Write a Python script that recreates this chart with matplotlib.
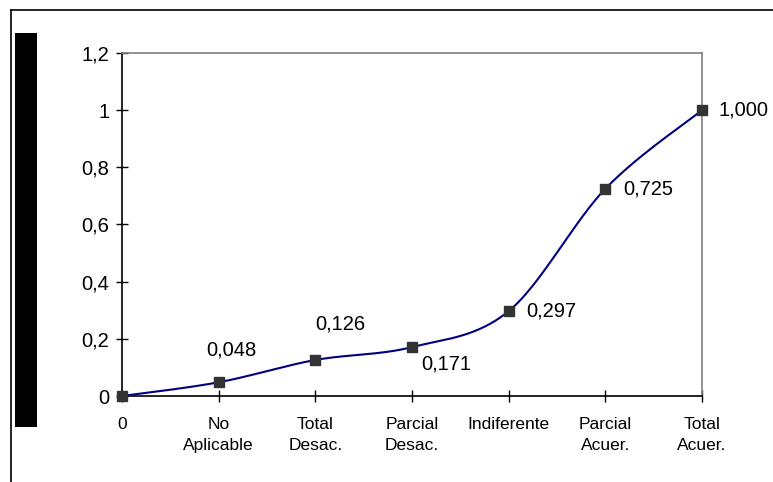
import numpy as np
import matplotlib.pyplot as plt
from matplotlib.patches import Rectangle
from matplotlib.lines import Line2D

plt.rcParams['font.family'] = ['Liberation Sans', 'DejaVu Sans']

# data
categories = ['0', 'No\nAplicable', 'Total\nDesac.', 'Parcial\nDesac.',
              'Indiferente', 'Parcial\nAcuer.', 'Total\nAcuer.']
values = [0.0, 0.048, 0.126, 0.171, 0.297, 0.725, 1.000]
point_labels = ['', '0,048', '0,126', '0,171', '0,297', '0,725', '1,000']
yticks = [0, 0.2, 0.4, 0.6, 0.8, 1.0, 1.2]
ytick_labels = ['0', '0,2', '0,4', '0,6', '0,8', '1', '1,2']


def smooth_curve(x, y, n=30):
    # Excel-like smoothed line (Catmull-Rom as cubic Bezier)
    x = np.asarray(x, float)
    y = np.asarray(y, float)
    px = np.concatenate([[x[0]], x, [x[-1]]])
    py = np.concatenate([[y[0]], y, [y[-1]]])
    xs, ys = [], []
    t = np.linspace(0, 1, n)
    for i in range(len(x) - 1):
        p0 = np.array([px[i + 1], py[i + 1]])
        p3 = np.array([px[i + 2], py[i + 2]])
        c1 = p0 + (p3 - np.array([px[i], py[i]])) / 6
        c2 = p3 - (np.array([px[i + 3], py[i + 3]]) - p0) / 6
        b = ((1 - t) ** 3)[:, None] * p0 + (3 * (1 - t) ** 2 * t)[:, None] * c1 \
            + (3 * (1 - t) * t ** 2)[:, None] * c2 + (t ** 3)[:, None] * p3
        xs.extend(b[:, 0])
        ys.extend(b[:, 1])
    return np.array(xs), np.array(ys)


fig = plt.figure(figsize=(7.73, 4.82), dpi=100)
W, H = 773, 482

# outer frame (cropped box) and black bar on the left
fig.add_artist(Line2D([11 / W, 11 / W], [0, 1 - 10 / H], color='black', lw=1.2,
                      transform=fig.transFigure))
fig.add_artist(Line2D([11 / W, 1], [1 - 10 / H, 1 - 10 / H], color='black', lw=1.2,
                      transform=fig.transFigure))
fig.add_artist(Rectangle((15 / W, 1 - 427 / H), 22 / W, (427 - 33) / H,
                         facecolor='black', edgecolor='none', transform=fig.transFigure))

ax = fig.add_axes([122 / W, 1 - 396 / H, (702 - 122) / W, (396 - 53) / H])

x = np.arange(len(values))
sx, sy = smooth_curve(x, values)
ax.plot(sx, sy, color='#000080', lw=1.5, zorder=3)
ax.plot(x, values, linestyle='none', marker='s', markersize=7,
        color='#333333', zorder=4)

# data labels (offsets in pixels)
offsets = [None, (13, 32, 'center'), (25, 36, 'center'), (34, -17, 'center'),
           (18, 0, 'left'), (18, 0, 'left'), (17, 0, 'left')]
for xi, v, lab, off in zip(x, values, point_labels, offsets):
    if off is None:
        continue
    ax.annotate(lab, (xi, v), xytext=(off[0], off[1]), textcoords='offset pixels',
                ha=off[2], va='center', fontsize=14.5, color='black')

ax.set_xlim(0, 6)
ax.set_ylim(0, 1.2)
ax.set_yticks(yticks)
ax.set_yticklabels(ytick_labels)
ax.set_xticks(x)
ax.set_xticklabels(categories)
for lab in ax.get_xticklabels():
    lab.set_linespacing(1.5)

ax.tick_params(axis='y', direction='inout', length=8, width=1, labelsize=14.5, pad=5)
ax.tick_params(axis='x', direction='inout', length=8.5, width=1, labelsize=12.5, pad=11)

ax.spines['left'].set_color('black')
ax.spines['bottom'].set_color('black')
ax.spines['top'].set_color('#808080')
ax.spines['right'].set_color('#808080')
for s in ax.spines.values():
    s.set_linewidth(1.2)
for line in ax.lines:
    line.set_clip_on(False)

fig.savefig('out.png', dpi=100)
